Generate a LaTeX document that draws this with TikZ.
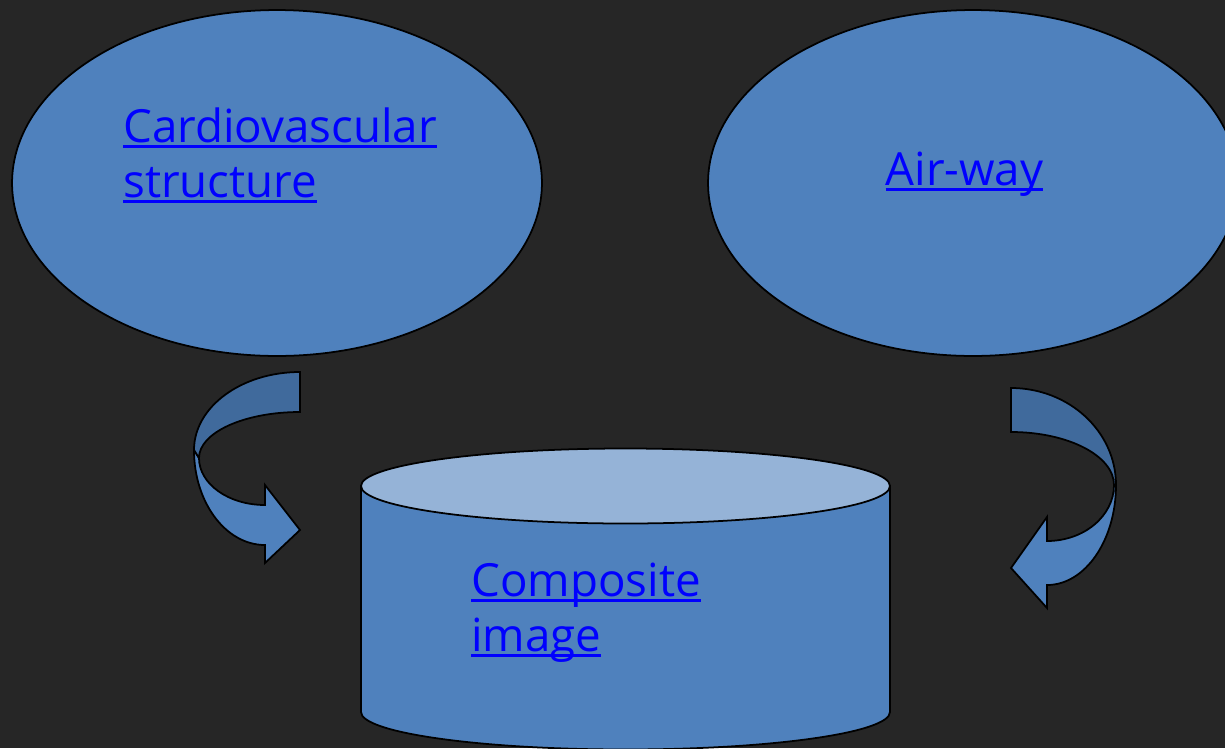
\documentclass[tikz,border=0pt]{standalone}
\usepackage{fontspec}
\setmainfont{Open Sans}
\usetikzlibrary{shapes.geometric}
\definecolor{bgcol}{RGB}{38,38,38}
\definecolor{shapeblue}{RGB}{79,129,189}
\definecolor{lightblue}{RGB}{149,179,215}
\definecolor{darkblue}{RGB}{64,106,156}
\definecolor{linkblue}{RGB}{0,0,255}
\tikzstyle{blob} = [ellipse, draw=black, line width=1pt, fill=shapeblue, minimum width=10.6cm, minimum height=6.92cm, inner sep=0pt]
\tikzstyle{link} = [text=linkblue, align=left, inner sep=0pt, font=\fontsize{26}{31.2}\selectfont]
\tikzstyle{band} = [draw=black, line width=1pt, fill=shapeblue]
\tikzstyle{backband} = [band, fill=darkblue]
\newcommand{\lnk}[1]{\setbox0=\hbox{#1}\rlap{\rule[-3.4pt]{\wd0}{1.7pt}}\box0}

\begin{document}
\begin{tikzpicture}[x=0.02cm, y=0.02cm]
\clip (0,0) rectangle (1225,-748);
\fill[bgcol] (0,0) rectangle (1225,-748);

% Nodes
\node (cardio) [blob] at (277,-183) {};
\node (airway) [blob] at (973,-183) {};

% Cylinder
\draw[band] (361,-486) -- (361,-712) arc[start angle=180, end angle=360, x radius=264.5, y radius=37.5] -- (890,-486) -- cycle;
\draw[band, fill=lightblue] (625.5,-486) ellipse [x radius=264.5, y radius=37.5];

% Labels (base = last line)
\node (cardio_txt) [link, anchor=base west] at (123,-197) {\lnk{Cardiovascular}\\\lnk{structure}};
\node (airway_txt) [link, anchor=base] at (964.5,-185) {\lnk{Air-way}};
\node (image_txt) [link, anchor=base west] at (471,-651) {\lnk{Composite}\\\lnk{image}};

% Curved arrows
\draw[band] (194,-450) arc[start angle=180, end angle=270, x radius=71, y radius=95] -- (265,-563) -- (300,-530) -- (265,-485) -- (265,-505) arc[start angle=270, end angle=180, x radius=66, y radius=47] -- (194,-450) -- cycle;
\draw[backband] (300,-372) arc[start angle=90, end angle=180, x radius=106, y radius=78] -- (199,-458) arc[start angle=180, end angle=90, x radius=101, y radius=46] -- cycle;

\draw[band] (1116,-485) arc[start angle=0, end angle=-90, x radius=69, y radius=100] -- (1047,-608) -- (1011,-568) -- (1047,-517) -- (1047,-541) arc[start angle=-90, end angle=0, x radius=67, y radius=56] -- cycle;
\draw[backband] (1011,-388) arc[start angle=90, end angle=0, x radius=105, y radius=97] -- (1114,-485) arc[start angle=0, end angle=90, x radius=103, y radius=53] -- cycle;

\end{tikzpicture}
\end{document}
